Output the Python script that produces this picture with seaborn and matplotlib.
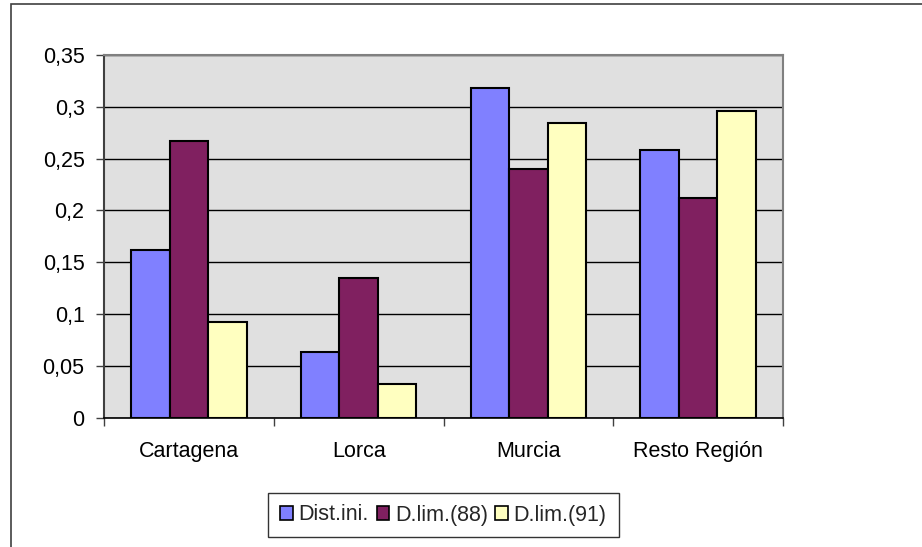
import matplotlib
matplotlib.use("Agg")
import matplotlib.pyplot as plt
from matplotlib.patches import Rectangle
from matplotlib.ticker import FixedLocator, FuncFormatter
import seaborn as sns
import pandas as pd

# Data
categories = ["Cartagena", "Lorca", "Murcia", "Resto Región"]
series_names = ["Dist.ini.", "D.lim.(88)", "D.lim.(91)"]
dist_ini = [0.162, 0.0636, 0.3177, 0.2578]
d_lim_88 = [0.2674, 0.1345, 0.2404, 0.2121]
d_lim_91 = [0.092, 0.0324, 0.2848, 0.2964]
y_ticks = [0, 0.05, 0.1, 0.15, 0.2, 0.25, 0.3, 0.35]

colors = ["#8080FF", "#802060", "#FFFFC0"]

rows = []
for name, vals in zip(series_names, [dist_ini, d_lim_88, d_lim_91]):
    for cat, v in zip(categories, vals):
        rows.append({"categoria": cat, "serie": name, "valor": v})
df = pd.DataFrame(rows)

sns.set_theme(style="white")
plt.rcParams["font.family"] = ["Liberation Sans", "DejaVu Sans"]
FS = 15.5

fig = plt.figure(figsize=(9.22, 5.47), dpi=100)
ax = fig.add_axes([104 / 922, 1 - 417.5 / 547, (783 - 104) / 922, (417.5 - 55) / 547])

sns.barplot(
    data=df, x="categoria", y="valor", hue="serie",
    order=categories, hue_order=series_names, palette=colors,
    width=0.68, gap=0, dodge=True, saturation=1,
    edgecolor="black", linewidth=1.5, ax=ax, legend=True, zorder=3,
)

ax.set_facecolor("#E0E0E0")
ax.set_xlim(-0.5, len(categories) - 0.5)
ax.set_ylim(0, 0.35)
ax.set_xlabel("")
ax.set_ylabel("")

# Y axis: comma decimals, gridlines
ax.yaxis.set_major_locator(FixedLocator(y_ticks))
ax.yaxis.set_major_formatter(FuncFormatter(lambda v, p: f"{v:g}".replace(".", ",")))
ax.grid(axis="y", color="black", linewidth=1.0, zorder=1)
ax.set_axisbelow(True)
ax.tick_params(axis="y", direction="out", length=6, width=1, color="#404040",
               labelsize=FS, pad=8, left=True)

# X axis: labels centred on categories, tick marks between categories
ax.tick_params(axis="x", which="major", length=0, labelsize=FS, pad=17)
ax.xaxis.set_minor_locator(FixedLocator([i - 0.5 for i in range(len(categories) + 1)]))
ax.tick_params(axis="x", which="minor", direction="out", length=6, width=1,
               color="#404040", bottom=True)
for lbl in ax.get_xticklabels() + ax.get_yticklabels():
    lbl.set_color("black")

for side, col in [("top", "#808080"), ("right", "#808080"), ("left", "#404040"), ("bottom", "black")]:
    ax.spines[side].set_visible(True)
    ax.spines[side].set_color(col)
    ax.spines[side].set_linewidth(1.5 if side != "bottom" else 1.2)

# Legend below the plot
handles, labels = ax.get_legend_handles_labels()
ax.get_legend().remove()
leg = fig.legend(
    handles, labels, loc="center", bbox_to_anchor=(443.5 / 922, 1 - 515 / 547),
    ncol=3, fontsize=FS, frameon=True, fancybox=False, shadow=False,
    handlelength=0.6, handleheight=0.6, handletextpad=0.25, columnspacing=0.35,
    borderpad=0.55, borderaxespad=0,
)
leg.get_frame().set_edgecolor("black")
leg.get_frame().set_linewidth(1.0)
for h in leg.legend_handles:
    h.set_edgecolor("black")
    h.set_linewidth(1.2)

# Chart area frame
fig.patches.append(Rectangle((11 / 922, -0.05), 1.2, 1.05 - 4.5 / 547,
                             transform=fig.transFigure, fill=False,
                             edgecolor="#404040", linewidth=1.2))

fig.savefig("out.png", dpi=100)
